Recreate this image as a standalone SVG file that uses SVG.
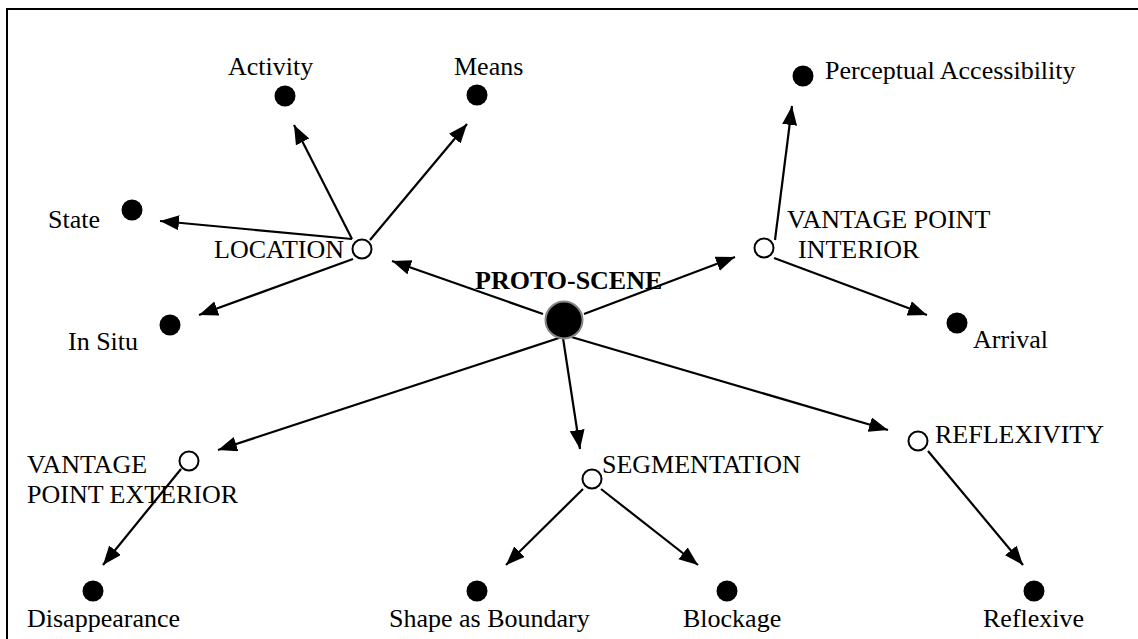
<svg xmlns="http://www.w3.org/2000/svg" width="1138" height="639" viewBox="0 0 1138 639">
<style>
text{font-family:"Liberation Serif","Times New Roman",serif;font-size:26px;fill:#000}
.b{font-weight:bold}
.leaf{fill:#000}
.mid{fill:#fff;stroke:#000;stroke-width:2}
.e{stroke:#000;stroke-width:2.2;fill:none;marker-end:url(#ah)}
</style>
<defs>
<marker id="ah" markerUnits="userSpaceOnUse" markerWidth="20" markerHeight="16" refX="19" refY="7.5" orient="auto">
<path d="M0,0 L19,7.5 L0,15 z" fill="#000"/>
</marker>
</defs>
<rect x="7" y="9" width="1140" height="650" fill="none" stroke="#000" stroke-width="2"/>
<g id="connectors">
<line class="e" x1="543" y1="314" x2="392" y2="261"/>
<line class="e" x1="584" y1="314" x2="735" y2="257"/>
<line class="e" x1="562" y1="337" x2="218" y2="450"/>
<line class="e" x1="563" y1="338" x2="580" y2="449"/>
<line class="e" x1="568" y1="336" x2="888" y2="430"/>
<line class="e" x1="352" y1="239" x2="160" y2="221"/>
<line class="e" x1="352" y1="239" x2="294" y2="125"/>
<line class="e" x1="370" y1="240" x2="467" y2="124"/>
<line class="e" x1="353" y1="259" x2="199" y2="315"/>
<line class="e" x1="775" y1="240" x2="792" y2="106"/>
<line class="e" x1="774" y1="258" x2="927" y2="315"/>
<line class="e" x1="181" y1="469" x2="103" y2="565"/>
<line class="e" x1="583" y1="489" x2="506" y2="565"/>
<line class="e" x1="601" y1="489" x2="698" y2="565"/>
<line class="e" x1="928" y1="451" x2="1023" y2="565"/>
</g>
<g id="proto-scene">
<circle cx="564" cy="320" r="18.5" fill="#000" stroke="#888" stroke-width="2"/>
<text class="b" x="475" y="289">PROTO-SCENE</text>
</g>
<g id="location">
<circle class="mid" cx="362" cy="249" r="9.5"/>
<text x="214" y="258">LOCATION</text>
</g>
<g id="vantage-point-interior">
<circle class="mid" cx="764" cy="248" r="9.5"/>
<text x="787" y="228">VANTAGE POINT</text>
<text x="798" y="258">INTERIOR</text>
</g>
<g id="vantage-point-exterior">
<circle class="mid" cx="189" cy="461" r="9.5"/>
<text x="27" y="473">VANTAGE</text>
<text x="27" y="503">POINT EXTERIOR</text>
</g>
<g id="segmentation">
<circle class="mid" cx="592" cy="479" r="9.5"/>
<text x="602" y="473">SEGMENTATION</text>
</g>
<g id="reflexivity">
<circle class="mid" cx="918" cy="441" r="9.5"/>
<text x="935" y="443">REFLEXIVITY</text>
</g>
<g id="activity">
<circle class="leaf" cx="285" cy="96" r="10.5"/>
<text x="228" y="75">Activity</text>
</g>
<g id="means">
<circle class="leaf" cx="477" cy="95" r="10.5"/>
<text x="454" y="75">Means</text>
</g>
<g id="state">
<circle class="leaf" cx="132" cy="210" r="10.5"/>
<text x="48" y="228">State</text>
</g>
<g id="in-situ">
<circle class="leaf" cx="170" cy="325" r="10.5"/>
<text x="68" y="350">In Situ</text>
</g>
<g id="perceptual-accessibility">
<circle class="leaf" cx="803" cy="76" r="10.5"/>
<text x="825" y="79">Perceptual Accessibility</text>
</g>
<g id="arrival">
<circle class="leaf" cx="957" cy="323" r="10.5"/>
<text x="973" y="348">Arrival</text>
</g>
<g id="disappearance">
<circle class="leaf" cx="93" cy="591" r="10.5"/>
<text x="27" y="627">Disappearance</text>
</g>
<g id="shape-as-boundary">
<circle class="leaf" cx="477" cy="591" r="10.5"/>
<text x="389" y="627">Shape as Boundary</text>
</g>
<g id="blockage">
<circle class="leaf" cx="727" cy="591" r="10.5"/>
<text x="683" y="627">Blockage</text>
</g>
<g id="reflexive">
<circle class="leaf" cx="1034" cy="591" r="10.5"/>
<text x="983" y="627">Reflexive</text>
</g>
</svg>
